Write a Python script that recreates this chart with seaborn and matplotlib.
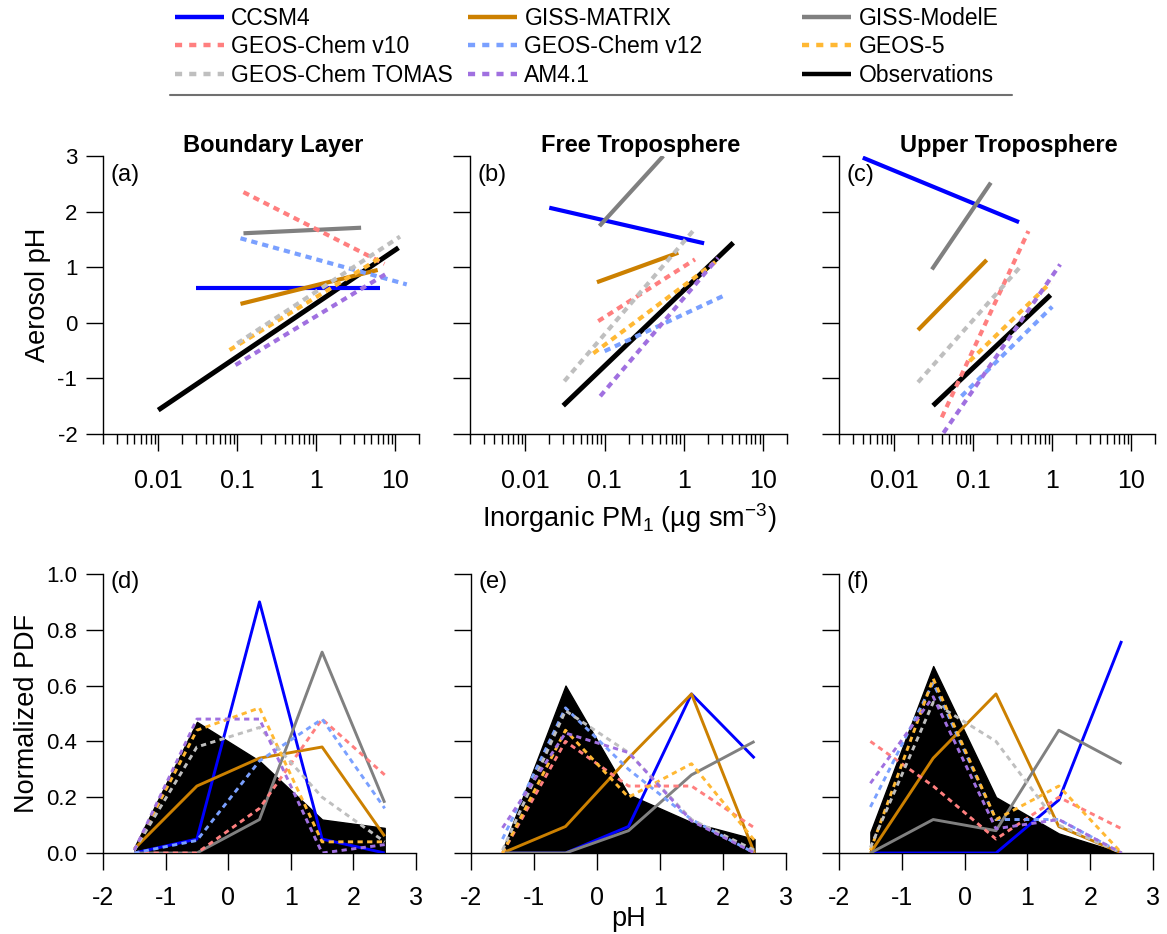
import numpy as np
import pandas as pd
import matplotlib
matplotlib.use("Agg")
import matplotlib.pyplot as plt
import seaborn as sns
from matplotlib.lines import Line2D
from matplotlib.ticker import FixedLocator, LogLocator, NullFormatter, FixedFormatter

# ---------------- data ----------------
models = ["CCSM4", "GISS-MATRIX", "GISS-ModelE", "GEOS-Chem v10", "GEOS-Chem v12",
          "GEOS-5", "GEOS-Chem TOMAS", "AM4.1"]
colors = {"CCSM4": "#0000FF", "GISS-MATRIX": "#CC8000", "GISS-ModelE": "#808080",
          "GEOS-Chem v10": "#FF7F7F", "GEOS-Chem v12": "#7AA0FF", "GEOS-5": "#FFB833",
          "GEOS-Chem TOMAS": "#BFBFBF", "AM4.1": "#A070E0", "Observations": "#000000"}
dashed = {"GEOS-Chem v10", "GEOS-Chem v12", "GEOS-5", "GEOS-Chem TOMAS", "AM4.1"}

# (a) Boundary layer: inorganic PM1 endpoints and pH endpoints of the fits
bl_pm = {"CCSM4": [0.03, 6.5], "GISS-MATRIX": [0.11, 6.0], "GISS-ModelE": [0.12, 3.7],
         "GEOS-Chem v10": [0.12, 7.3], "GEOS-Chem v12": [0.11, 14.0], "GEOS-5": [0.08, 6.7],
         "GEOS-Chem TOMAS": [0.10, 11.5], "AM4.1": [0.095, 8.3], "Observations": [0.01, 11.0]}
bl_ph = {"CCSM4": [0.62, 0.62], "GISS-MATRIX": [0.34, 0.95], "GISS-ModelE": [1.61, 1.71],
         "GEOS-Chem v10": [2.35, 1.06], "GEOS-Chem v12": [1.52, 0.69], "GEOS-5": [-0.49, 1.18],
         "GEOS-Chem TOMAS": [-0.37, 1.55], "AM4.1": [-0.76, 0.91], "Observations": [-1.57, 1.35]}
# (b) Free troposphere
ft_pm = {"CCSM4": [0.02, 1.8], "GISS-MATRIX": [0.08, 0.85], "GISS-ModelE": [0.086, 0.55],
         "GEOS-Chem v10": [0.083, 1.38], "GEOS-Chem v12": [0.10, 3.1], "GEOS-5": [0.072, 2.7],
         "GEOS-Chem TOMAS": [0.031, 1.3], "AM4.1": [0.088, 2.7], "Observations": [0.03, 4.2]}
ft_ph = {"CCSM4": [2.07, 1.43], "GISS-MATRIX": [0.73, 1.26], "GISS-ModelE": [1.74, 3.0],
         "GEOS-Chem v10": [0.03, 1.14], "GEOS-Chem v12": [-0.51, 0.48], "GEOS-5": [-0.55, 1.13],
         "GEOS-Chem TOMAS": [-1.05, 1.65], "AM4.1": [-1.32, 1.17], "Observations": [-1.49, 1.44]}
# (c) Upper troposphere
ut_pm = {"CCSM4": [0.004, 0.38], "GISS-MATRIX": [0.020, 0.148], "GISS-ModelE": [0.030, 0.167],
         "GEOS-Chem v10": [0.040, 0.50], "GEOS-Chem v12": [0.071, 1.0], "GEOS-5": [0.09, 0.95],
         "GEOS-Chem TOMAS": [0.020, 0.39], "AM4.1": [0.042, 1.26], "Observations": [0.031, 0.95]}
ut_ph = {"CCSM4": [2.97, 1.81], "GISS-MATRIX": [-0.13, 1.13], "GISS-ModelE": [0.96, 2.52],
         "GEOS-Chem v10": [-1.70, 1.65], "GEOS-Chem v12": [-1.32, 0.29], "GEOS-5": [-0.69, 0.72],
         "GEOS-Chem TOMAS": [-1.07, 1.00], "AM4.1": [-1.98, 1.05], "Observations": [-1.49, 0.50]}

# (d)-(f) normalized pH PDFs
ph_bins = [-1.5, -0.5, 0.5, 1.5, 2.5]
bl_pdf = {"CCSM4": [0.0, 0.05, 0.90, 0.05, 0.0], "GISS-MATRIX": [0.015, 0.24, 0.34, 0.38, 0.06],
          "GISS-ModelE": [0.0, 0.0, 0.12, 0.72, 0.18], "GEOS-Chem v10": [0.0, 0.0, 0.16, 0.48, 0.28],
          "GEOS-Chem v12": [0.0, 0.045, 0.33, 0.48, 0.16], "GEOS-5": [0.01, 0.44, 0.52, 0.04, 0.04],
          "GEOS-Chem TOMAS": [0.01, 0.38, 0.45, 0.20, 0.04], "AM4.1": [0.01, 0.48, 0.48, 0.0, 0.03],
          "Observations": [0.02, 0.47, 0.33, 0.12, 0.09]}
ft_pdf = {"CCSM4": [0.0, 0.0, 0.095, 0.57, 0.34], "GISS-MATRIX": [0.0, 0.095, 0.34, 0.57, 0.0],
          "GISS-ModelE": [0.0, 0.0, 0.08, 0.28, 0.40], "GEOS-Chem v10": [0.0, 0.40, 0.24, 0.24, 0.09],
          "GEOS-Chem v12": [0.05, 0.52, 0.30, 0.12, 0.0], "GEOS-5": [0.0, 0.44, 0.20, 0.32, 0.045],
          "GEOS-Chem TOMAS": [0.01, 0.51, 0.36, 0.12, 0.01], "AM4.1": [0.09, 0.43, 0.36, 0.115, 0.0],
          "Observations": [0.01, 0.60, 0.21, 0.11, 0.05]}
ut_pdf = {"CCSM4": [0.0, 0.0, 0.0, 0.19, 0.76], "GISS-MATRIX": [0.0, 0.34, 0.57, 0.095, 0.0],
          "GISS-ModelE": [0.0, 0.12, 0.08, 0.44, 0.32], "GEOS-Chem v10": [0.40, 0.24, 0.05, 0.20, 0.087],
          "GEOS-Chem v12": [0.165, 0.61, 0.12, 0.12, 0.0], "GEOS-5": [0.01, 0.625, 0.12, 0.24, 0.0],
          "GEOS-Chem TOMAS": [0.02, 0.54, 0.40, 0.10, 0.0], "AM4.1": [0.25, 0.56, 0.087, 0.12, 0.0],
          "Observations": [0.075, 0.67, 0.20, 0.07, 0.0]}

titles = ["Boundary Layer", "Free Troposphere", "Upper Troposphere"]
top_labels = ["(a)", "(b)", "(c)"]
bot_labels = ["(d)", "(e)", "(f)"]
pm_ticks = [0.01, 0.1, 1, 10]
pm_ticklabels = ["0.01", "0.1", "1", "10"]
ph_ticks = [-2, -1, 0, 1, 2, 3]
pdf_ticks = [0.0, 0.2, 0.4, 0.6, 0.8, 1.0]

# ---------------- style ----------------
sns.set_theme(style="ticks")
plt.rcParams["font.family"] = ["Liberation Sans", "DejaVu Sans"]
plt.rcParams["axes.unicode_minus"] = False
plt.rcParams["mathtext.fontset"] = "custom"
plt.rcParams["mathtext.rm"] = "Liberation Sans"
plt.rcParams["mathtext.it"] = "Liberation Sans:italic"
plt.rcParams["mathtext.bf"] = "Liberation Sans:bold"
for k in ["text.color", "axes.labelcolor", "xtick.color", "ytick.color",
          "axes.edgecolor", "xtick.labelcolor", "ytick.labelcolor"]:
    plt.rcParams[k] = "black"

W, H = 1167, 934
fig = plt.figure(figsize=(W / 100, H / 100), dpi=100)


def rect(l, t, r, b):
    return [l / W, 1 - b / H, (r - l) / W, (b - t) / H]


top_rects = [(103, 156, 419, 434), (470, 156, 787, 434), (839, 156, 1155, 434)]
bot_rects = [(103, 574, 416, 853), (471, 574, 786, 853), (839, 574, 1153, 853)]

TOP_LW = 3.0
BOT_LW = 2.1


def style_axes(ax):
    for s in ["top", "right"]:
        ax.spines[s].set_visible(False)
    for s in ["left", "bottom"]:
        ax.spines[s].set_linewidth(1.0)
        ax.spines[s].set_color("black")
    ax.tick_params(which="major", direction="out", length=12.5, width=1.0,
                   color="black", labelcolor="black")
    ax.tick_params(which="minor", direction="out", length=7, width=1.0, color="black")
    ax.tick_params(axis="y", labelsize=16, pad=6)
    ax.set_xlabel("")
    ax.set_ylabel("")


top_pm = [bl_pm, ft_pm, ut_pm]
top_ph = [bl_ph, ft_ph, ut_ph]
for i in range(3):
    ax = fig.add_axes(rect(*top_rects[i]))
    ax.set_xscale("log")
    order = ["Observations"] + models
    for m in order:
        df = pd.DataFrame({"pm": top_pm[i][m], "ph": top_ph[i][m]})
        ls = (0, (1.5, 1.2)) if m in dashed else "-"
        lw = TOP_LW + (0.6 if m == "Observations" else 0)
        sns.lineplot(data=df, x="pm", y="ph", ax=ax, color=colors[m], linewidth=lw,
                     linestyle=ls, legend=False, sort=False, solid_capstyle="butt",
                     dash_capstyle="butt")
    ax.set_xlim(0.002, 20)
    ax.set_ylim(-2, 3)
    ax.xaxis.set_major_locator(FixedLocator(pm_ticks))
    ax.xaxis.set_major_formatter(FixedFormatter(pm_ticklabels))
    ax.xaxis.set_minor_locator(LogLocator(base=10, subs=np.arange(2, 10), numticks=30))
    ax.xaxis.set_minor_formatter(NullFormatter())
    ax.set_yticks([-2, -1, 0, 1, 2, 3])
    style_axes(ax)
    ax.tick_params(axis="x", labelsize=18, pad=13)
    if i > 0:
        ax.set_yticklabels([])
    else:
        ax.set_yticklabels(["-2", "-1", "0", "1", "2", "3"])
    ax.text(0.025, 0.93, top_labels[i], transform=ax.transAxes, fontsize=17,
            ha="left", va="center")
    ax.text(0.5 + 12 / 316, (434 - 152) / 278, titles[i], transform=ax.transAxes,
            fontsize=17, fontweight="bold", ha="center", va="baseline")

bot_pdf = [bl_pdf, ft_pdf, ut_pdf]
for i in range(3):
    ax = fig.add_axes(rect(*bot_rects[i]))
    obs = bot_pdf[i]["Observations"]
    ax.fill_between(ph_bins, 0, obs, color="black", linewidth=1.0, zorder=1)
    for m in models:
        df = pd.DataFrame({"ph": ph_bins, "pdf": bot_pdf[i][m]})
        ls = (0, (1.8, 1.5)) if m in dashed else "-"
        sns.lineplot(data=df, x="ph", y="pdf", ax=ax, color=colors[m], linewidth=BOT_LW,
                     linestyle=ls, legend=False, sort=False, zorder=3,
                     solid_capstyle="butt", dash_capstyle="butt")
    ax.set_xlim(-2, 3)
    ax.set_ylim(0, 1.0)
    ax.set_xticks(ph_ticks)
    ax.set_xticklabels([str(t) for t in ph_ticks])
    ax.set_yticks(pdf_ticks)
    style_axes(ax)
    ax.tick_params(axis="x", labelsize=18, pad=11)
    if i > 0:
        ax.set_yticklabels([])
    else:
        ax.set_yticklabels([f"{t:.1f}" for t in pdf_ticks])
    ax.text(0.025, 0.971, bot_labels[i], transform=ax.transAxes, fontsize=17,
            ha="left", va="center")

# axis labels
fig.text(629 / W, 1 - 518 / H, "Inorganic PM$_\\mathregular{1}$ (µg sm$^\\mathregular{-3}$)",
         fontsize=19.5, ha="center", va="center")
fig.text(629 / W, 1 - 919 / H, "pH", fontsize=19.5, ha="center", va="center")
fig.text(38 / W, 1 - 295 / H, "Aerosol pH", fontsize=19.5, ha="center", va="center",
         rotation=90)
fig.text(27 / W, 1 - 713 / H, "Normalized PDF", fontsize=19.5, ha="center", va="center",
         rotation=90)

# legend: three columns placed individually
leg_cols = [["CCSM4", "GEOS-Chem v10", "GEOS-Chem TOMAS"],
            ["GISS-MATRIX", "GEOS-Chem v12", "AM4.1"],
            ["GISS-ModelE", "GEOS-5", "Observations"]]
col_x = [175, 468, 802]
for names, x0 in zip(leg_cols, col_x):
    handles = []
    for n in names:
        ls = (0, (1.6, 1.6)) if n in dashed else "-"
        handles.append(Line2D([], [], color=colors[n], lw=3.2, linestyle=ls,
                              solid_capstyle="butt", dash_capstyle="butt"))
    fig.legend(handles, names, loc="upper left", bbox_to_anchor=(x0 / W, 1 - 7 / H),
               frameon=False, fontsize=16.5, borderpad=0, borderaxespad=0,
               handlelength=2.14, handletextpad=0.32, labelspacing=0.23)

fig.add_artist(Line2D([170 / W, 1012 / W], [1 - 95 / H, 1 - 95 / H], color="#707070",
                      lw=1.5, transform=fig.transFigure))

fig.savefig("out.png", dpi=100)
